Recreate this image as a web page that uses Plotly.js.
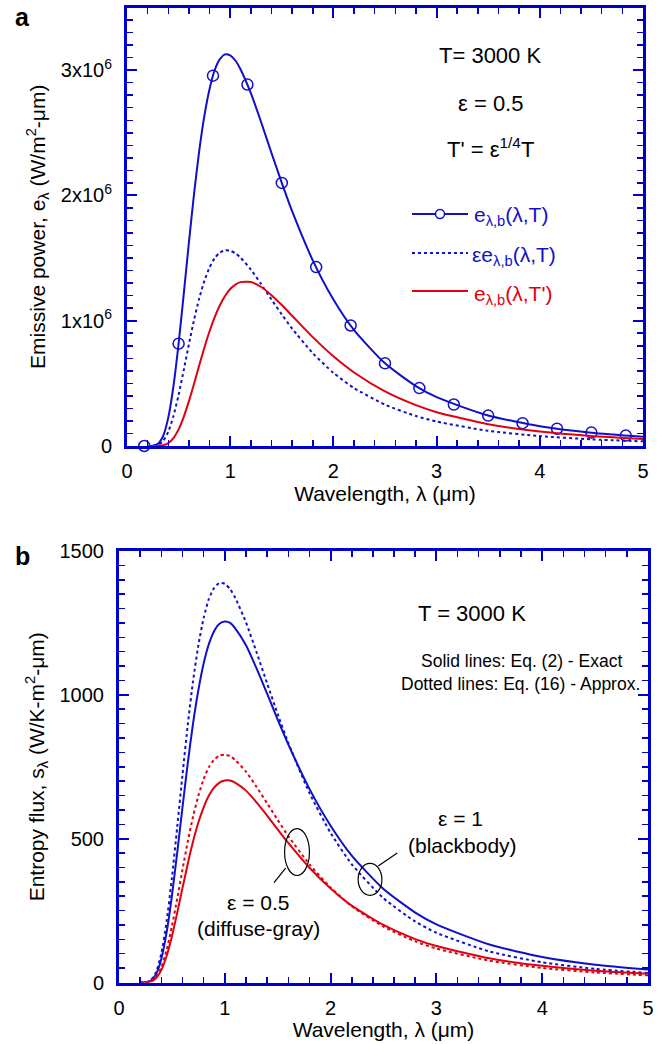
<!DOCTYPE html>
<html><head><meta charset="utf-8">
<script src="https://cdn.plot.ly/plotly-3.0.1.min.js"></script>
<style>html,body{margin:0;padding:0;background:#fff}#chart{width:666px;height:1044px}</style>
</head><body><div id="chart"></div>
<script>
// Wavelength grid (μm)
const lam = [0.2,0.25,0.3,0.35,0.4,0.45,0.5,0.55,0.6,0.65,0.7,0.75,0.8,0.85,0.9,0.95,1.0,1.05,1.1,1.2,1.3,1.4,1.5,1.6,1.8,2.0,2.2,2.5,2.8,3.0,3.5,4.0,4.5,5.0];
// Panel a, values in 10^6 W/m2-μm
const ebT = [0,0.0018,0.0176,0.080,0.2266,0.477,0.817,1.214,1.625,2.015,2.357,2.637,2.850,3.001,3.088,3.126,3.118,3.077,3.007,2.816,2.584,2.339,2.100,1.874,1.482,1.169,0.925,0.660,0.478,0.390,0.243,0.158,0.1066,0.0744];
const epsEbT = [0,0.0009,0.0088,0.040,0.1133,0.2385,0.4085,0.607,0.8125,1.0075,1.1785,1.3185,1.425,1.5005,1.544,1.563,1.559,1.5385,1.5035,1.408,1.292,1.1695,1.05,0.937,0.741,0.5845,0.4625,0.33,0.239,0.195,0.1215,0.079,0.0533,0.0372];
const ebTprime = [0,0,0.0009,0.006,0.0234,0.0635,0.133,0.233,0.358,0.497,0.644,0.786,0.916,1.029,1.123,1.197,1.253,1.288,1.308,1.309,1.269,1.204,1.125,1.040,0.869,0.716,0.587,0.436,0.326,0.270,0.174,0.1156,0.0795,0.0562];
const markerLam = [0.167,0.5,0.833,1.167,1.5,1.833,2.167,2.5,2.833,3.167,3.5,3.833,4.167,4.5,4.833];
const markerVal = [0,0.817,2.956,2.885,2.100,1.428,0.962,0.660,0.462,0.331,0.243,0.182,0.138,0.107,0.083];
// Panel b, entropy flux W/K-m2-μm
const sBlackExact = [0,0.6,6.2,28.6,81.8,174,300.6,451,609,763,901,1016,1109,1177,1222,1247,1255,1250,1230,1172,1092,1004,914,828,673,545,441,325,243,202,132,89,62,45];
const sBlackApprox = [0,0.8,7.8,35.6,100.7,212,363,539.6,722,895.6,1048,1172,1267,1334,1372,1389,1386,1368,1336,1252,1148,1040,933,833,659,520,411,293,212,173,108,70.2,47.4,33.1];
const sGrayExact = [0,0.3,3.2,15,43,92,160,242,328,413,490,556,609,650,678,695,702,702,694,667,626,580,532,485,399,327,267,200,151,127,84,58,41,30];
const sGrayApprox = [0,0.4,4.1,18.7,53,113,195,291,392,490,577,649,707,749,775,789,792,787,773,733,680,623,565,509,411,330,265,194,143,118,76,50.5,35,24.8];
// Tick labels
const yTickVals1 = [0,1,2,3];
const yTickText1 = ['0','1x10<sup>6</sup>','2x10<sup>6</sup>','3x10<sup>6</sup>'];
const yTickVals2 = [0,500,1000,1500];
const yTickText2 = ['0','500','1000','1500'];

const BLUE = '#1010c8', RED = '#e00010', AX = '#0000cc';
const FONT = '"Liberation Sans", Arial, Helvetica, sans-serif';
const W = 666, H = 1044;
const px = x => x / W, py = y => 1 - y / H;

function axisBase(extra) {
  return Object.assign({
    showline: true, linecolor: AX, linewidth: 3, mirror: 'allticks',
    ticks: 'inside', ticklen: 10, tickwidth: 2, tickcolor: AX,
    showgrid: false, zeroline: false, automargin: false, fixedrange: true,
    tickfont: {family: FONT, size: 20, color: '#000'}
  }, extra);
}
function minorTicks(dt) {
  return {ticks: 'inside', ticklen: 6, tickwidth: 1.5, tickcolor: AX, dtick: dt, showgrid: false};
}
const solid = c => ({color: c, width: 2, shape: 'spline', smoothing: 0.6});
const dotted = c => ({color: c, width: 2, dash: 'dot', shape: 'spline', smoothing: 0.6});

const traces = [
  {x: lam, y: ebT, xaxis: 'x', yaxis: 'y', mode: 'lines', line: solid(BLUE), hoverinfo: 'skip'},
  {x: markerLam, y: markerVal, xaxis: 'x', yaxis: 'y', mode: 'markers', marker: {symbol: 'circle-open', size: 11, color: BLUE, line: {width: 1.5, color: BLUE}}, cliponaxis: false, hoverinfo: 'skip'},
  {x: lam, y: epsEbT, xaxis: 'x', yaxis: 'y', mode: 'lines', line: dotted(BLUE), hoverinfo: 'skip'},
  {x: lam, y: ebTprime, xaxis: 'x', yaxis: 'y', mode: 'lines', line: solid(RED), hoverinfo: 'skip'},
  {x: lam, y: sBlackApprox, xaxis: 'x2', yaxis: 'y2', mode: 'lines', line: dotted(BLUE), hoverinfo: 'skip'},
  {x: lam, y: sBlackExact, xaxis: 'x2', yaxis: 'y2', mode: 'lines', line: solid(BLUE), hoverinfo: 'skip'},
  {x: lam, y: sGrayApprox, xaxis: 'x2', yaxis: 'y2', mode: 'lines', line: dotted(RED), hoverinfo: 'skip'},
  {x: lam, y: sGrayExact, xaxis: 'x2', yaxis: 'y2', mode: 'lines', line: solid(RED), hoverinfo: 'skip'}
];

function txt(text, x, y, size, color, opts) {
  return Object.assign({text: text, xref: 'paper', yref: 'paper', x: px(x), y: py(y),
    xanchor: 'center', yanchor: 'middle', showarrow: false,
    font: {family: FONT, size: size, color: color || '#000'}}, opts || {});
}
const titleFont = {family: FONT, size: 21, color: '#000'};

const layout = {
  width: W, height: H, paper_bgcolor: '#fff', plot_bgcolor: '#fff',
  margin: {l: 0, r: 0, t: 0, b: 0}, showlegend: false,
  font: {family: FONT, color: '#000'},
  xaxis: axisBase({domain: [px(127), px(643)], range: [0, 5], dtick: 1, tick0: 0, anchor: 'y',
    minor: minorTicks(0.2), ticklabelstandoff: 5,
    title: {text: 'Wavelength, λ (μm)', font: titleFont, standoff: 4}}),
  yaxis: axisBase({domain: [py(446), py(7.5)], range: [0, 3.5], anchor: 'x',
    tickvals: yTickVals1, ticktext: yTickText1, minor: minorTicks(0.1), ticklabelstandoff: 8,
    title: {text: 'Emissive power, e<sub>λ</sub> (W/m<sup>2</sup>-μm)', font: titleFont, standoff: 10}}),
  xaxis2: axisBase({domain: [px(119), px(648)], range: [0, 5], dtick: 1, tick0: 0, anchor: 'y2',
    minor: minorTicks(0.2), ticklabelstandoff: 5,
    title: {text: 'Wavelength, λ (μm)', font: titleFont, standoff: 4}}),
  yaxis2: axisBase({domain: [py(982.5), py(551)], range: [0, 1500], anchor: 'x2',
    tickvals: yTickVals2, ticktext: yTickText2, minor: minorTicks(50), ticklabelstandoff: 8,
    title: {text: 'Entropy flux, s<sub>λ</sub> (W/K-m<sup>2</sup>-μm)', font: titleFont, standoff: 10}}),
  annotations: [
    txt('<b>a</b>', 22, 17, 25),
    txt('<b>b</b>', 22, 556, 25),
    txt('T= 3000 K', 490, 55, 22),
    txt('ε = 0.5', 490, 103, 22),
    txt("T' = ε<sup>1/4</sup>T", 490, 148, 22),
    txt('e<sub>λ,b</sub>(λ,T)', 472, 216, 21, BLUE, {xanchor: 'left'}),
    txt('εe<sub>λ,b</sub>(λ,T)', 470, 256, 21, BLUE, {xanchor: 'left'}),
    txt("e<sub>λ,b</sub>(λ,T')", 472, 295, 21, RED, {xanchor: 'left'}),
    txt('T = 3000 K', 472, 613, 22),
    txt('Solid lines: Eq. (2) - Exact', 521, 661, 17.5),
    txt('Dotted lines: Eq. (16) - Approx.', 520, 684, 17.5),
    txt('ε = 1', 460, 818, 21),
    txt('(blackbody)', 462, 845, 21),
    txt('ε = 0.5', 258, 902, 21),
    txt('(diffuse-gray)', 258, 928, 21)
  ],
  shapes: [
    // legend samples (panel a)
    {type: 'line', xref: 'paper', yref: 'paper', x0: px(412), x1: px(468), y0: py(214), y1: py(214), line: {color: BLUE, width: 2}},
    {type: 'circle', xref: 'paper', yref: 'paper', x0: px(435.5), x1: px(444.5), y0: py(209.5), y1: py(218.5), fillcolor: '#fff', line: {color: BLUE, width: 1.5}},
    {type: 'line', xref: 'paper', yref: 'paper', x0: px(412), x1: px(468), y0: py(253), y1: py(253), line: {color: BLUE, width: 2, dash: 'dot'}},
    {type: 'line', xref: 'paper', yref: 'paper', x0: px(412), x1: px(468), y0: py(291), y1: py(291), line: {color: RED, width: 2}},
    // ellipses and leaders (panel b)
    {type: 'circle', xref: 'x2', yref: 'y2', x0: 1.565, x1: 1.80, y0: 372, y1: 535, line: {color: '#000', width: 1.2}},
    {type: 'line', xref: 'x2', yref: 'y2', x0: 1.575, x1: 1.465, y0: 398, y1: 347, line: {color: '#000', width: 1.2}},
    {type: 'circle', xref: 'x2', yref: 'y2', x0: 2.26, x1: 2.485, y0: 303, y1: 414, line: {color: '#000', width: 1.2}},
    {type: 'line', xref: 'x2', yref: 'y2', x0: 2.45, x1: 2.63, y0: 405, y1: 450, line: {color: '#000', width: 1.2}}
  ]
};

Plotly.newPlot('chart', traces, layout, {staticPlot: true, displayModeBar: false});
</script>
</body></html>
